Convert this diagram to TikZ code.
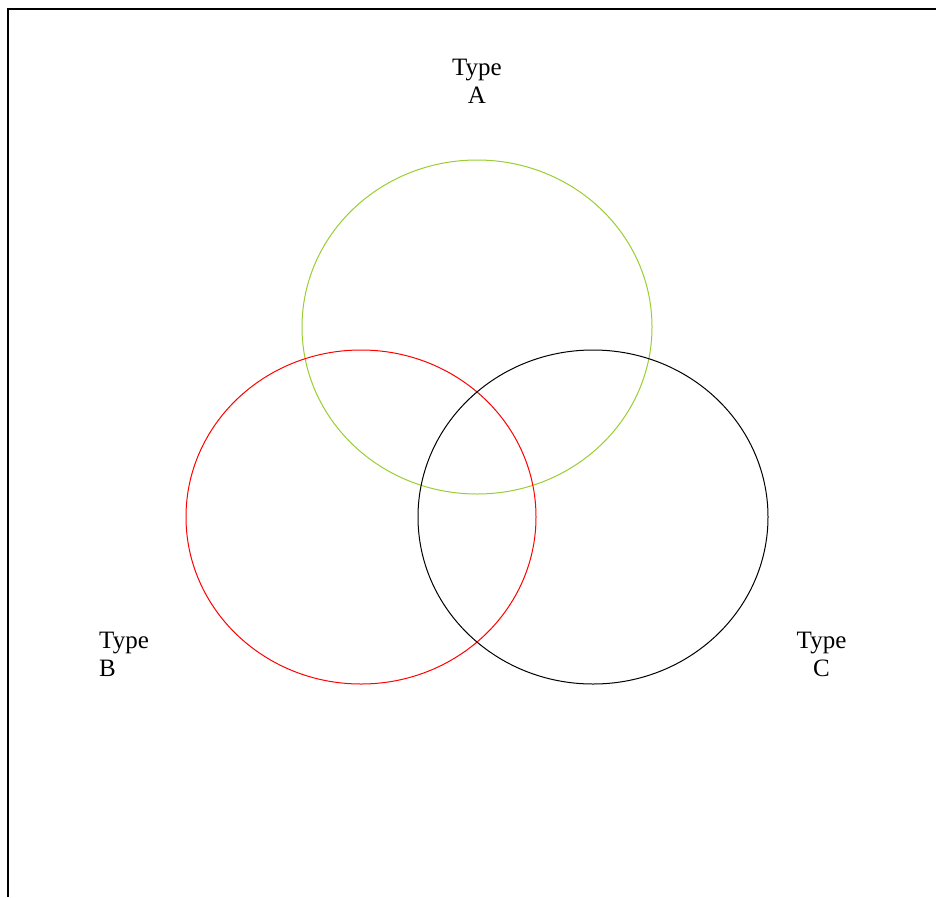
\documentclass[tikz,border=0pt]{standalone}
\usepackage{fontspec}
\setmainfont{Liberation Serif}
\usetikzlibrary{shapes.geometric}
\definecolor{setgreen}{RGB}{154,205,50}

\begin{document}
\begin{tikzpicture}[x=1pt,y=-1pt,
  setring/.style={ellipse,draw,line width=1pt,inner sep=0pt,minimum width=350pt,minimum height=334pt},
  setlabel/.style={inner sep=0pt,font=\fontsize{25}{28}\selectfont}]
\useasboundingbox (0,0) rectangle (936,897);
\coordinate (corner) at (8,9);
\coordinate (topend) at (936,9);
\coordinate (leftend) at (8,897);
\draw[line width=2pt] (topend) -- (corner) -- (leftend);
\node[setring,draw=setgreen] (setA) at (477,327) {};
\node[setring,draw=red] (setB) at (361,517) {};
\node[setring,draw=black] (setC) at (593,517) {};
\node[setlabel,align=center] (labA) at (477,81) {Type\\A};
\node[setlabel,align=left,anchor=west] (labB) at (99,654) {Type\\B};
\node[setlabel,align=center] (labC) at (821.5,654) {Type\\C};
\end{tikzpicture}
\end{document}
